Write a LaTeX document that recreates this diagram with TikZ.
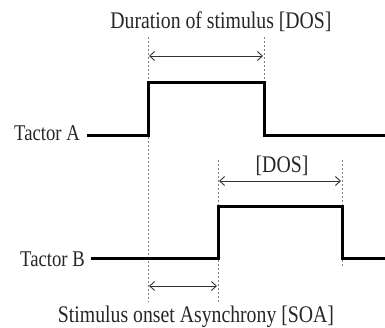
\documentclass[tikz,border=0pt]{standalone}
\usepackage{fontspec}
\setmainfont[FakeStretch=0.83]{Liberation Serif}
\usetikzlibrary{arrows.meta}
\begin{document}
\begin{tikzpicture}[x=1pt,y=-1pt,
  lbl/.style={font=\fontsize{23.8}{26}\selectfont, text=black!85, inner sep=0pt},
  tlbl/.style={lbl, font=\fontsize{22.5}{25}\selectfont},
  sig/.style={line width=3pt, black, line join=miter},
  guide/.style={gray, line width=0.6pt, dash pattern=on 2pt off 2pt},
  span/.style={{Straight Barb[length=5pt,width=9pt]}-{Straight Barb[length=5pt,width=9pt]}, line width=0.9pt, black!80}]
\useasboundingbox (0,0) rectangle (385,328);
% labels
\node[lbl, anchor=base] (title) at (221,28.5) {Duration of stimulus [DOS]};
\node[tlbl, anchor=base east] (ta) at (80,141) {Tactor A};
\node[tlbl, anchor=base east] (tb) at (85,267) {Tactor B};
\node[lbl, anchor=base] (dos) at (282,173) {[DOS]};
\node[lbl, anchor=base] (soa) at (196,322) {Stimulus onset Asynchrony [SOA]};
% coordinates
\coordinate (a0) at (87,136);
\coordinate (a1) at (148,136);
\coordinate (a2) at (148,83);
\coordinate (a3) at (264,83);
\coordinate (a4) at (264,136);
\coordinate (a5) at (385,136);
\coordinate (b0) at (91,259);
\coordinate (b1) at (218,259);
\coordinate (b2) at (218,207);
\coordinate (b3) at (342,207);
\coordinate (b4) at (342,259);
\coordinate (b5) at (385,259);
% guides
\coordinate (g1t) at (148,37);
\coordinate (g1b) at (148,302);
\coordinate (g2t) at (264,37);
\coordinate (g3t) at (218,160);
\coordinate (g3b) at (218,302);
\coordinate (g4t) at (342,160);
\coordinate (g4b) at (342,267);
\draw[guide] (g1t) -- (g1b);
\draw[guide] (g2t) -- (a3);
\draw[guide] (g3t) -- (g3b);
\draw[guide] (g4t) -- (g4b);
% signals
\draw[sig] (a0) -- (a1) -- (a2) -- (a3) -- (a4) -- (a5);
\draw[sig] (b0) -- (b1) -- (b2) -- (b3) -- (b4) -- (b5);
% spans
\coordinate (s1l) at (149,56);
\coordinate (s1r) at (263,56);
\coordinate (s2l) at (219,181);
\coordinate (s2r) at (341,181);
\coordinate (s3l) at (149,286);
\coordinate (s3r) at (217,286);
\draw[span] (s1l) -- (s1r);
\draw[span] (s2l) -- (s2r);
\draw[span] (s3l) -- (s3r);
\end{tikzpicture}
\end{document}
